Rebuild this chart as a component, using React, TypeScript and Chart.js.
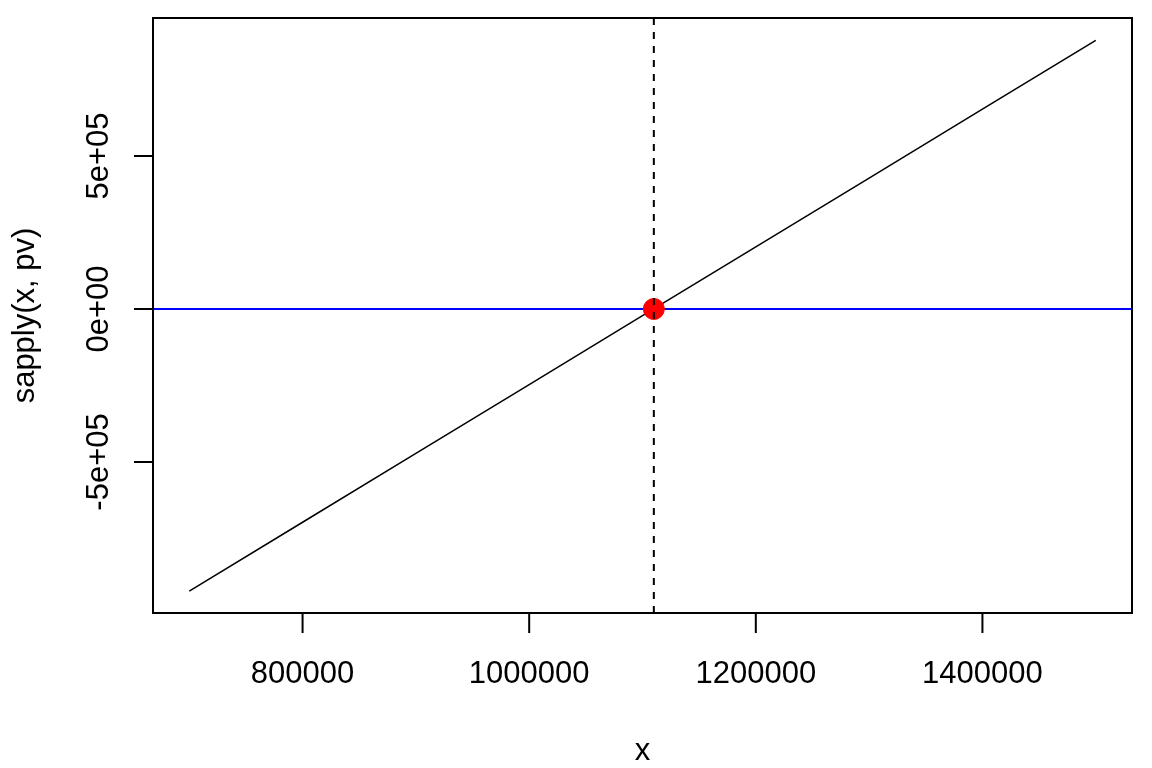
import React, { useEffect, useRef } from "react";
import { Chart, registerables } from "chart.js";

Chart.register(...registerables);

const xValues = [700000, 800000, 900000, 1000000, 1100000, 1200000, 1300000, 1400000, 1500000];
const yValues = [-922000, -697000, -472000, -247000, -22000, 203000, 428000, 653000, 878000];
const rootX = 1110000;
const rootY = 0;
const xTicks = [800000, 1000000, 1200000, 1400000];
const xTickLabels = ["800000", "1000000", "1200000", "1400000"];
const yTicks = [-500000, 0, 500000];
const yTickLabels = ["-5e+05", "0e+00", "5e+05"];
const xTitle = "x";
const yTitle = "sapply(x, pv)";
const xRange = [668000, 1532000];
const yRange = [-993600, 951100];

const FONT = "31px 'Liberation Sans', Arial, sans-serif";

const axesPlugin = {
  id: "rAxes",
  beforeDatasetsDraw(chart: any) {
    const { ctx, chartArea, scales } = chart;
    const y0 = scales.y.getPixelForValue(rootY);
    ctx.save();
    ctx.strokeStyle = "#0000FF";
    ctx.lineWidth = 2;
    ctx.beginPath();
    ctx.moveTo(chartArea.left, y0);
    ctx.lineTo(chartArea.right, y0);
    ctx.stroke();
    ctx.restore();
  },
  afterDatasetsDraw(chart: any) {
    const { ctx, chartArea, scales } = chart;
    const xs = scales.x;
    const ys = scales.y;
    ctx.save();
    const vx = xs.getPixelForValue(rootX);
    ctx.strokeStyle = "#000";
    ctx.lineWidth = 2;
    ctx.setLineDash([7, 7]);
    ctx.beginPath();
    ctx.moveTo(vx, chartArea.top);
    ctx.lineTo(vx, chartArea.bottom);
    ctx.stroke();
    ctx.setLineDash([]);
    ctx.lineWidth = 2;
    ctx.strokeRect(chartArea.left, chartArea.top, chartArea.right - chartArea.left, chartArea.bottom - chartArea.top);
    const xp = xTicks.map((v) => xs.getPixelForValue(v));
    const ab = chartArea.bottom;
    ctx.beginPath();
    ctx.moveTo(xp[0], ab);
    ctx.lineTo(xp[xp.length - 1], ab);
    xp.forEach((p) => {
      ctx.moveTo(p, ab);
      ctx.lineTo(p, ab + 20);
    });
    ctx.stroke();
    ctx.fillStyle = "#000";
    ctx.font = FONT;
    ctx.textAlign = "center";
    ctx.textBaseline = "alphabetic";
    xp.forEach((p, i) => ctx.fillText(xTickLabels[i], p, 683));
    ctx.fillText(xTitle, (chartArea.left + chartArea.right) / 2, 760);
    const yp = yTicks.map((v) => ys.getPixelForValue(v));
    const al = chartArea.left;
    ctx.beginPath();
    ctx.moveTo(al, yp[0]);
    ctx.lineTo(al, yp[yp.length - 1]);
    yp.forEach((p) => {
      ctx.moveTo(al, p);
      ctx.lineTo(al - 19, p);
    });
    ctx.stroke();
    yp.forEach((p, i) => {
      ctx.save();
      ctx.translate(108, p);
      ctx.rotate(-Math.PI / 2);
      ctx.fillText(yTickLabels[i], 0, 0);
      ctx.restore();
    });
    ctx.save();
    ctx.translate(34, (chartArea.top + chartArea.bottom) / 2);
    ctx.rotate(-Math.PI / 2);
    ctx.fillText(yTitle, 0, 0);
    ctx.restore();
    ctx.restore();
  },
};

export default function App() {
  const ref = useRef<HTMLCanvasElement>(null);
  useEffect(() => {
    document.body.style.margin = "0";
    const chart = new Chart(ref.current!, {
      type: "scatter",
      data: {
        datasets: [
          {
            type: "line",
            data: xValues.map((x, i) => ({ x, y: yValues[i] })),
            borderColor: "#000",
            borderWidth: 1.5,
            pointRadius: 0,
            fill: false,
            tension: 0,
            order: 2,
          },
          {
            type: "scatter",
            data: [{ x: rootX, y: rootY }],
            backgroundColor: "#FF0000",
            borderColor: "#FF0000",
            pointRadius: 10.5,
            borderWidth: 1,
            order: 1,
          },
        ],
      },
      options: {
        animation: false,
        responsive: false,
        devicePixelRatio: 1,
        layout: { padding: { left: 153, top: 18, right: 20, bottom: 155 } },
        plugins: { legend: { display: false }, tooltip: { enabled: false } },
        scales: {
          x: { type: "linear", min: xRange[0], max: xRange[1], display: false },
          y: { type: "linear", min: yRange[0], max: yRange[1], display: false },
        },
      },
      plugins: [axesPlugin],
    });
    return () => chart.destroy();
  }, []);
  return <canvas ref={ref} width={1152} height={768} style={{ display: "block" }} />;
}
